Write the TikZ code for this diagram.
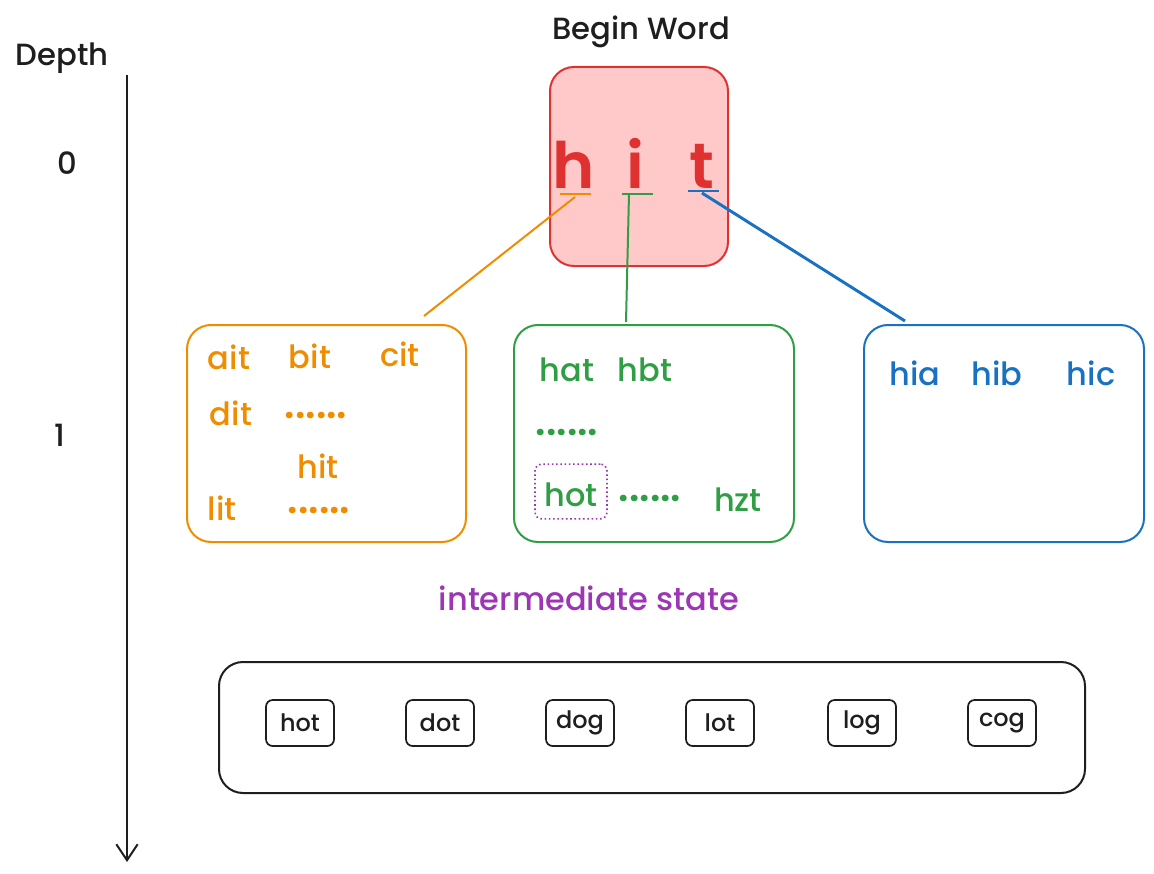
\documentclass[tikz,border=0pt]{standalone}
\usepackage{fontspec}
\setmainfont{Poppins}[UprightFont={* Medium}, BoldFont={* SemiBold}]
\usetikzlibrary{arrows.meta}
\definecolor{exred}{HTML}{E03131}
\definecolor{exredfill}{HTML}{FFC9C9}
\definecolor{exorange}{HTML}{F08C00}
\definecolor{exgreen}{HTML}{2F9E44}
\definecolor{exblue}{HTML}{1971C2}
\definecolor{expurple}{HTML}{9C36B5}
\definecolor{exblack}{HTML}{1E1E1E}
\tikzset{
  box/.style={draw, line width=1.5pt, rounded corners=18pt, inner sep=0pt},
  wordtxt/.style={font=\fontsize{24}{28}\selectfont, inner sep=0pt},
  dotstxt/.style={font=\fontsize{30}{34}\selectfont\bfseries, inner sep=0pt, text height=5pt, text depth=0pt, anchor=base},
  labeltxt/.style={font=\fontsize{23}{27}\selectfont, inner sep=0pt, text=exblack},
  smallbox/.style={draw=exblack, line width=1.3pt, rounded corners=5pt, minimum width=51pt, minimum height=34.5pt, inner sep=0pt, font=\fontsize{18}{21}\selectfont, text=exblack},
  bigletter/.style={font=\fontsize{48}{54}\selectfont\bfseries, text=exred, anchor=base, inner sep=0pt},
  link/.style={line width=1.5pt},
}
\begin{document}
\begin{tikzpicture}[x=0.75pt,y=-0.75pt]
\useasboundingbox (0,0) rectangle (1154,874);
% depth axis
\node[labeltxt] (depth) at (62,58) {Depth};
\node[labeltxt] (d0) at (67,163) {0};
\node[labeltxt] (d1) at (60,435) {1};
\coordinate (axtop) at (127,75);
\coordinate (axbot) at (127,862);
\draw[exblack, line width=1.5pt, -{Straight Barb[length=12pt,width=16pt,line width=1.5pt]}] (axtop) -- (axbot);
% begin word
\node[labeltxt] (begin) at (641,32) {Begin Word};
\node[box, draw=exred, fill=exredfill, minimum width=133.5pt, minimum height=149.25pt] (root) at (639,166.5) {};
\node[bigletter] (h) at (574,188) {h};
\node[bigletter] (i) at (635,188) {i};
\node[bigletter] (t) at (702,188) {t};
\coordinate (hu1) at (560,194); \coordinate (hu2) at (591,194);
\coordinate (iu1) at (622,194); \coordinate (iu2) at (653,194);
\coordinate (tu1) at (688,191); \coordinate (tu2) at (719,191);
\draw[exorange, link] (hu1) -- (hu2);
\draw[exgreen, link] (iu1) -- (iu2);
\draw[exblue, link] (tu1) -- (tu2);
% child boxes
\node[box, draw=exorange, minimum width=209.25pt, minimum height=162.75pt] (obox) at (326.5,433.5) {};
\node[box, draw=exgreen, minimum width=210pt, minimum height=162.75pt] (gbox) at (654,433.5) {};
\node[box, draw=exblue, minimum width=210pt, minimum height=162.75pt] (bbox) at (1004,433.5) {};
% connectors
\coordinate (oend) at (424,316);
\coordinate (ostart) at (575,197);
\coordinate (gstart) at (629,194);
\coordinate (gend) at (626,322);
\coordinate (bstart) at (702,193);
\coordinate (bend) at (905,321);
\draw[exorange, link] (ostart) -- (oend);
\draw[exgreen, link] (gstart) -- (gend);
\draw[exblue, line width=2.2pt] (bstart) -- (bend);
% orange texts
\begin{scope}[every node/.style={wordtxt, text=exorange}]
\node (ait) at (229,357) {ait};
\node (bit) at (310,356) {bit};
\node (cit) at (400,354) {cit};
\node (dit) at (231,413) {dit};
\node (hit) at (318,466) {hit};
\node (lit) at (222,508) {lit};
\end{scope}
\node[dotstxt, text=exorange] (odots1) at (316,418) {......};
\node[dotstxt, text=exorange] (odots2) at (319,513) {......};
% green texts
\begin{scope}[every node/.style={wordtxt, text=exgreen}]
\node (hat) at (567,370) {hat};
\node (hbt) at (645,370) {hbt};
\node (hot1) at (571,495) {hot};
\node (hzt) at (738,500) {hzt};
\end{scope}
\node[dotstxt, text=exgreen] (gdots1) at (567,435) {......};
\node[dotstxt, text=exgreen] (gdots2) at (650,501) {......};
\node[draw=expurple, line width=1.2pt, dotted, rounded corners=5pt, minimum width=54pt, minimum height=41pt, inner sep=0pt] (hotmark) at (571,491.5) {};
% blue texts
\begin{scope}[every node/.style={wordtxt, text=exblue}]
\node (hia) at (915,373) {hia};
\node (hib) at (997,373) {hib};
\node (hic) at (1091,373) {hic};
\end{scope}
% intermediate state
\node[wordtxt, text=expurple] (inter) at (589,598) {intermediate state};
% word list
\node[box, draw=exblack, minimum width=649.5pt, minimum height=98.25pt] (list) at (652,727.5) {};
\node[smallbox] (w1) at (300,723) {hot};
\node[smallbox] (w2) at (440,723) {dot};
\node[smallbox] (w3) at (580,723) {dog};
\node[smallbox] (w4) at (720,723) {lot};
\node[smallbox] (w5) at (862,723) {log};
\node[smallbox] (w6) at (1002,723) {cog};
\end{tikzpicture}
\end{document}
